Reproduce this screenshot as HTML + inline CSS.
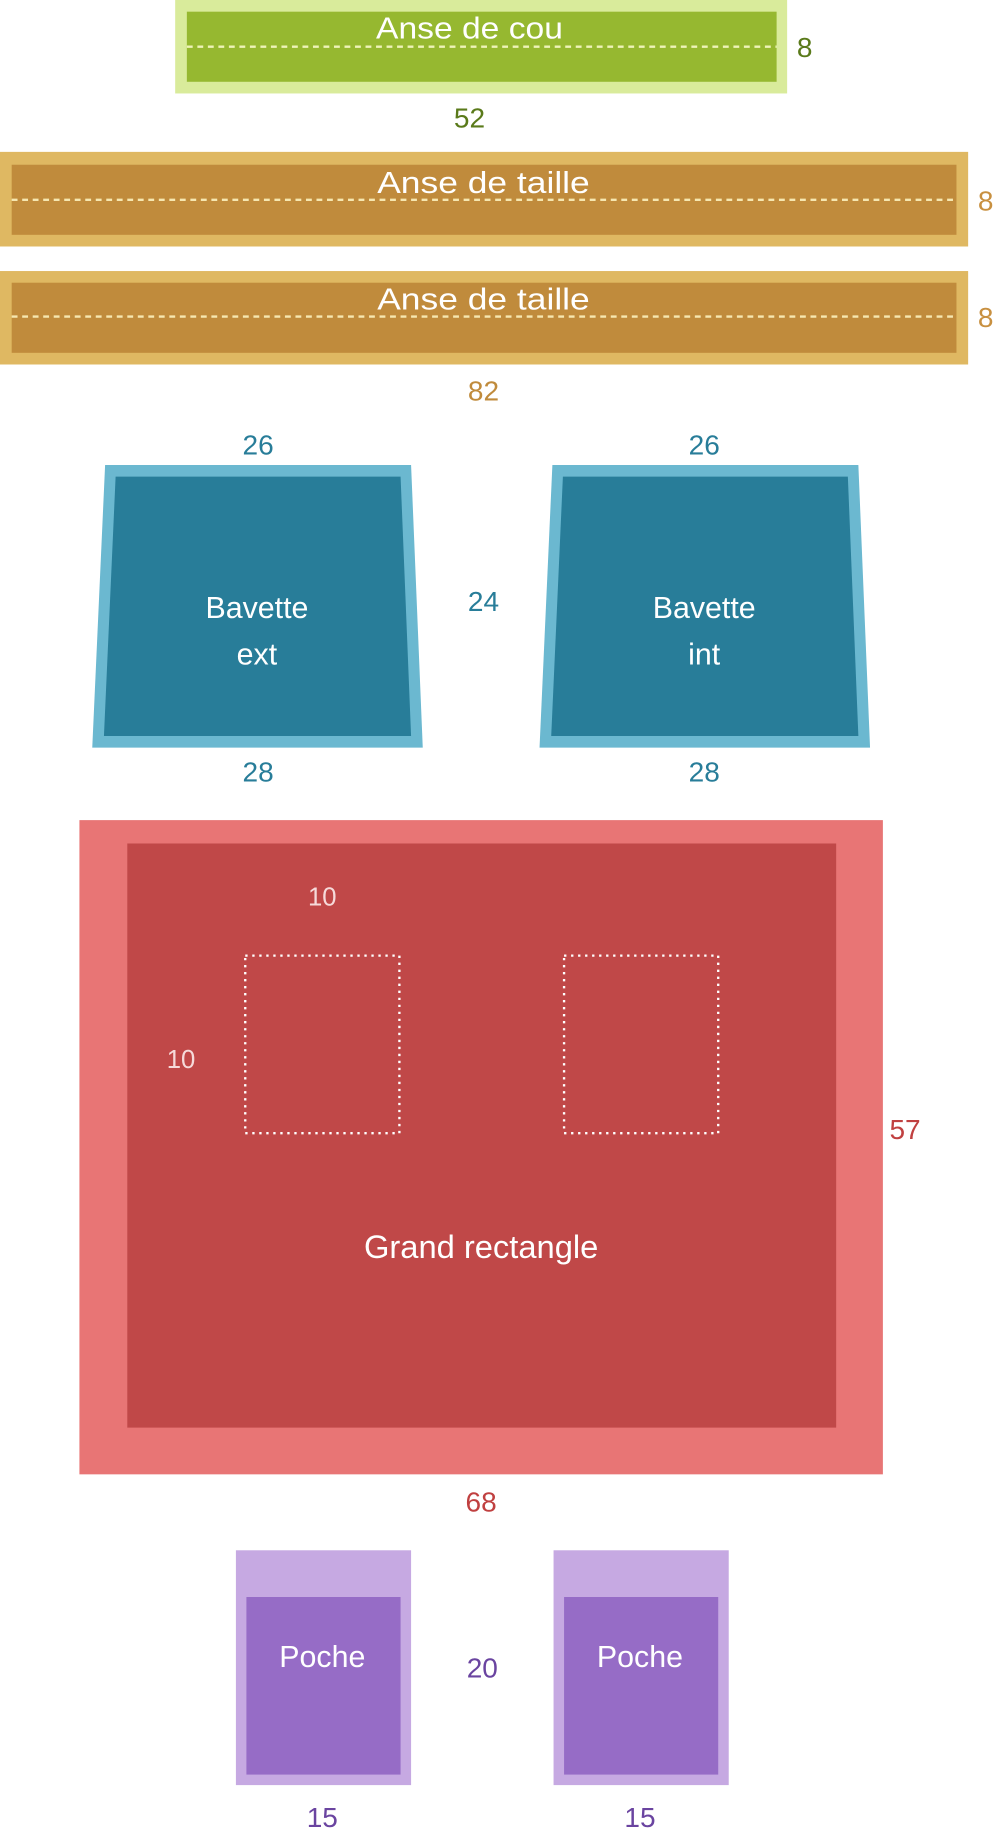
<!DOCTYPE html>
<html><head><meta charset="utf-8"><style>html,body{margin:0;padding:0;background:#fff}svg{display:block}</style></head>
<body>
<svg width="995" height="1833" viewBox="0 0 852 1569" preserveAspectRatio="none" xmlns="http://www.w3.org/2000/svg" font-family="Liberation Sans, sans-serif" text-anchor="middle">
<rect x="150" y="0" width="524" height="80" fill="#d9eb9b"/>
<rect x="160" y="10" width="505" height="60" fill="#96b830"/>
<line x1="160" y1="40" x2="665" y2="40" stroke="#eef3b8" stroke-width="2" stroke-dasharray="5,4"/>
<text x="402" y="33" font-size="26" fill="#fff" textLength="160" lengthAdjust="spacingAndGlyphs">Anse de cou</text>
<text x="689" y="49" font-size="24" fill="#5a7a1a">8</text>
<text x="402" y="109" font-size="24" fill="#5a7a1a">52</text>

<rect x="0" y="130" width="829" height="81" fill="#dfb862"/>
<rect x="10" y="141" width="809" height="60" fill="#c08b3c"/>
<line x1="10" y1="171" x2="819" y2="171" stroke="#f6e7b0" stroke-width="2" stroke-dasharray="5,4"/>
<text x="414" y="165" font-size="26" fill="#fff" textLength="182" lengthAdjust="spacingAndGlyphs">Anse de taille</text>
<text x="844" y="180" font-size="24" fill="#c89040">8</text>

<rect x="0" y="232" width="829" height="80" fill="#dfb862"/>
<rect x="10" y="242" width="809" height="60" fill="#c08b3c"/>
<line x1="10" y1="271" x2="819" y2="271" stroke="#f6e7b0" stroke-width="2" stroke-dasharray="5,4"/>
<text x="414" y="265" font-size="26" fill="#fff" textLength="182" lengthAdjust="spacingAndGlyphs">Anse de taille</text>
<text x="844" y="280" font-size="24" fill="#c89040">8</text>
<text x="414" y="343" font-size="24" fill="#c08b3c">82</text>

<polygon points="90,398 352,398 362,640 79,640" fill="#6bb8d0"/>
<polygon points="99,408 343,408 352,630 89,630" fill="#287d99"/>
<text x="220" y="529" font-size="26" fill="#fff">Bavette</text>
<text x="220" y="569" font-size="26" fill="#fff">ext</text>
<polygon points="473,398 735,398 745,640 462,640" fill="#6bb8d0"/>
<polygon points="482,408 726,408 735,630 472,630" fill="#287d99"/>
<text x="603" y="529" font-size="26" fill="#fff">Bavette</text>
<text x="603" y="569" font-size="26" fill="#fff">int</text>
<g font-size="24" fill="#287d99">
<text x="221" y="389">26</text><text x="603" y="389">26</text>
<text x="221" y="669">28</text><text x="603" y="669">28</text>
<text x="414" y="523">24</text>
</g>

<rect x="68" y="702" width="688" height="560" fill="#e87575"/>
<rect x="109" y="722" width="607" height="500" fill="#c04848"/>
<rect x="210" y="818" width="132" height="152" fill="none" stroke="#fff" stroke-width="2" stroke-dasharray="2,4"/>
<rect x="483" y="818" width="132" height="152" fill="none" stroke="#fff" stroke-width="2" stroke-dasharray="2,4"/>
<text x="276" y="775" font-size="22" fill="#f6dada">10</text>
<text x="155" y="914" font-size="22" fill="#f6dada">10</text>
<text x="412" y="1077" font-size="28" fill="#fff">Grand rectangle</text>
<text x="775" y="975" font-size="24" fill="#c04040">57</text>
<text x="412" y="1294" font-size="24" fill="#c04040">68</text>

<rect x="202" y="1327" width="150" height="201" fill="#c6a9e2"/>
<rect x="211" y="1367" width="132" height="152" fill="#966cc6"/>
<text x="276" y="1427" font-size="26" fill="#fff">Poche</text>
<rect x="474" y="1327" width="150" height="201" fill="#c6a9e2"/>
<rect x="483" y="1367" width="132" height="152" fill="#966cc6"/>
<text x="548" y="1427" font-size="26" fill="#fff">Poche</text>
<g font-size="24" fill="#6a44a0">
<text x="413" y="1436">20</text>
<text x="276" y="1564">15</text><text x="548" y="1564">15</text>
</g>
</svg>
</body></html>
